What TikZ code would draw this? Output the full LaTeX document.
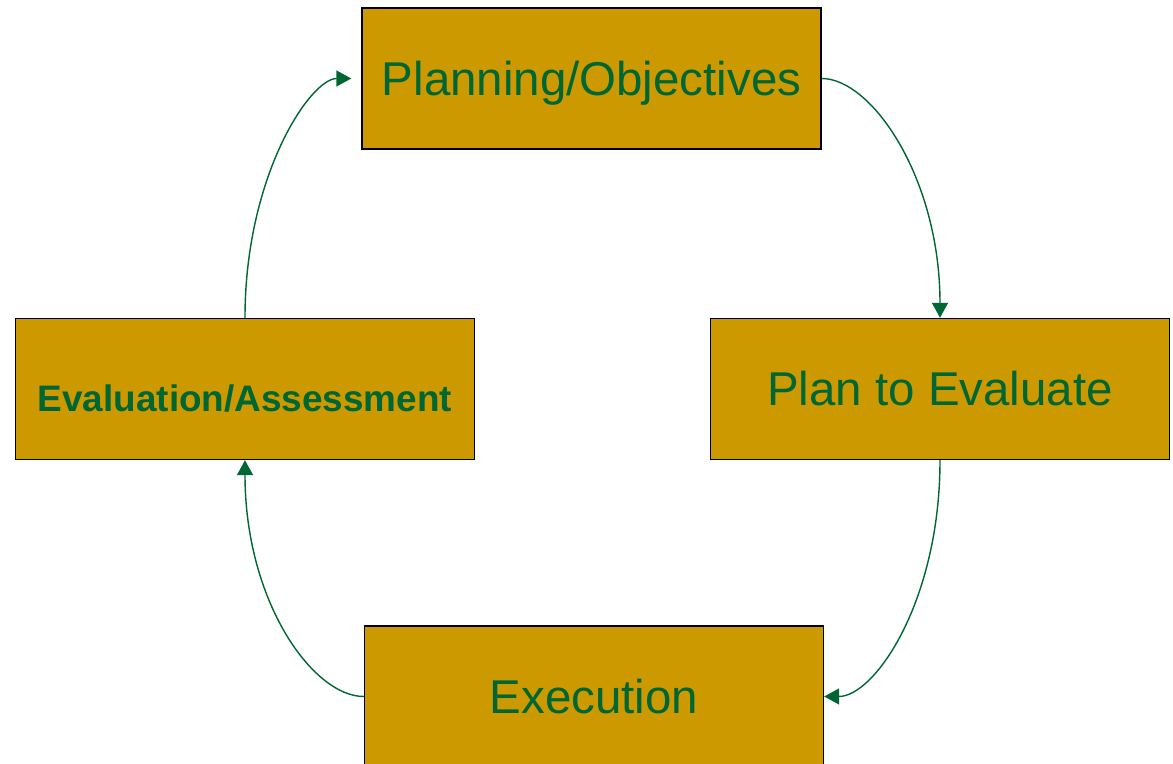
\documentclass[tikz,border=0pt]{standalone}
\usepackage{fontspec}
\setmainfont{Liberation Sans}
\usetikzlibrary{arrows.meta}
\definecolor{gold}{HTML}{CC9900}
\definecolor{leaf}{HTML}{006633}
\begin{document}
\begin{tikzpicture}[
    stage/.style={draw=black, line width=0.8pt, fill=gold, inner sep=0pt,
        minimum width=9.18cm, minimum height=2.82cm, text=leaf,
        font=\fontsize{27}{32}\selectfont, text height=0.68cm, text depth=0cm},
    cycle/.style={draw=leaf, line width=0.8pt, -{Triangle[length=0.3cm, width=0.32cm]}}
]
    % Fix the page to the picture's size
    \clip (0,0) rectangle (23.46,-15.28);

    % Draw the four stage boxes
    \node[stage] (plan) at (11.83,-1.57) {Planning/Objectives};
    \node[stage] (prep) at (18.80,-7.78) {Plan to Evaluate};
    \node[stage, font=\bfseries\fontsize{21}{25}\selectfont, text height=0.89cm] (eval) at (4.90,-7.78) {Evaluation/Assessment};
    \node[stage] (exec) at (11.88,-13.93) {Execution};

    % Draw the curved arrows round the cycle
    \draw[cycle] (plan.east) to[out=0, in=90, out looseness=0.48, in looseness=1.34] (prep.north);
    \draw[cycle] (prep.south) to[out=-90, in=0, out looseness=1.37, in looseness=0.49] (exec.east);
    \draw[cycle] (exec.west) to[out=180, in=-90, out looseness=0.49, in looseness=1.37] (eval.south);
    \draw[cycle, shorten >=0.2cm] (eval.north) to[out=90, in=180, out looseness=1.37, in looseness=0.49] (plan.west);

\end{tikzpicture}
\end{document}
